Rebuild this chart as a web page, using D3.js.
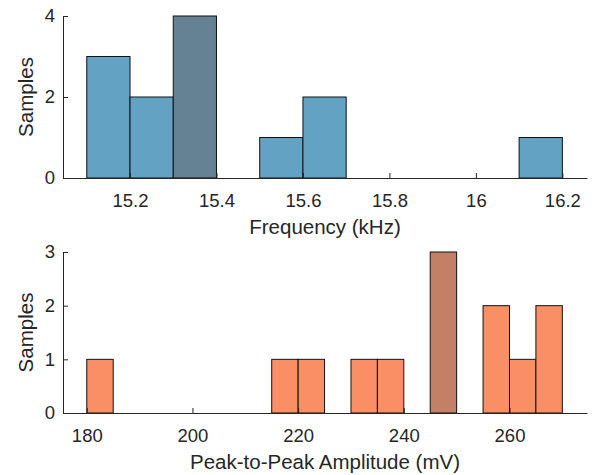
<!DOCTYPE html>
<html>
<head>
<meta charset="utf-8">
<script src="https://cdn.jsdelivr.net/npm/d3@7"></script>
<style>
  body { margin: 0; background: #fff; }
  svg text { font-family: "Liberation Sans", Arial, sans-serif; fill: #262626; }
</style>
</head>
<body>
<div class="canvas"></div>
<script>
// top histogram: frequency
const freqEdges = [15.1, 15.2, 15.3, 15.4, 15.5, 15.6, 15.7, 15.8, 15.9, 16.0, 16.1, 16.2];
const freqCounts = [3, 2, 4, 0, 1, 2, 0, 0, 0, 0, 1];
const freqTicksX = [15.2, 15.4, 15.6, 15.8, 16, 16.2];
const freqTicksY = [0, 2, 4];
const freqHighlight = 2;

// bottom histogram: amplitude
const ampEdges = [180, 185, 190, 195, 200, 205, 210, 215, 220, 225, 230, 235, 240, 245, 250, 255, 260, 265, 270];
const ampCounts = [1, 0, 0, 0, 0, 0, 0, 1, 1, 0, 1, 1, 0, 3, 0, 2, 1, 2];
const ampTicksX = [180, 200, 220, 240, 260];
const ampTicksY = [0, 1, 2, 3];
const ampHighlight = 13;

const W = 593, H = 475;
const svg = d3.select('.canvas').append('svg')
  .attr('width', W).attr('height', H);

const axisColor = '#262626';

function histogram(opts) {
  const g = svg.append('g');
  const x = d3.scaleLinear().domain(opts.xDomain).range([63, 587]);
  const y = d3.scaleLinear().domain(opts.yDomain).range([opts.bottom, opts.top]);

  const bins = opts.counts.map((c, i) => ({ x0: opts.edges[i], x1: opts.edges[i + 1], c, i }));

  g.selectAll('rect').data(bins).enter().append('rect')
    .attr('x', d => x(d.x0))
    .attr('width', d => x(d.x1) - x(d.x0))
    .attr('y', d => y(d.c))
    .attr('height', d => y(0) - y(d.c))
    .attr('fill', d => d.i === opts.highlight ? opts.dark : opts.color)
    .attr('stroke', '#111')
    .attr('stroke-width', 1);

  // x axis
  const xAxis = d3.axisBottom(x).tickValues(opts.xTicks).tickSizeInner(-5).tickSizeOuter(0)
    .tickFormat(d3.format('~g')).tickPadding(15.5);
  const xg = g.append('g').attr('transform', `translate(0,${opts.bottom})`).call(xAxis);
  // y axis
  const yAxis = d3.axisLeft(y).tickValues(opts.yTicks).tickSizeInner(-5).tickSizeOuter(0)
    .tickFormat(d3.format('d')).tickPadding(8);
  const yg = g.append('g').attr('transform', 'translate(63,0)').call(yAxis);

  [xg, yg].forEach(a => {
    a.select('.domain').attr('stroke', axisColor);
    a.selectAll('.tick line').attr('stroke', axisColor);
    a.selectAll('.tick text').attr('font-size', 18.5).attr('fill', axisColor);
  });

  g.append('text')
    .attr('x', 325).attr('y', opts.bottom + 55.5)
    .attr('text-anchor', 'middle').attr('font-size', 20.5)
    .text(opts.xLabel);
  g.append('text')
    .attr('transform', `translate(33,${(opts.top + opts.bottom) / 2}) rotate(-90)`)
    .attr('text-anchor', 'middle').attr('font-size', 20.5)
    .text('Samples');
}

histogram({
  edges: freqEdges, counts: freqCounts, highlight: freqHighlight,
  xDomain: [15.045, 16.257], yDomain: [0, 4],
  xTicks: freqTicksX, yTicks: freqTicksY,
  top: 16, bottom: 178,
  color: '#64a2c4', dark: '#658294',
  xLabel: 'Frequency (kHz)'
});

histogram({
  edges: ampEdges, counts: ampCounts, highlight: ampHighlight,
  xDomain: [175.5, 274.67], yDomain: [0, 3],
  xTicks: ampTicksX, yTicks: ampTicksY,
  top: 252, bottom: 413,
  color: '#fa8f65', dark: '#c38066',
  xLabel: 'Peak-to-Peak Amplitude (mV)'
});
</script>
</body>
</html>
